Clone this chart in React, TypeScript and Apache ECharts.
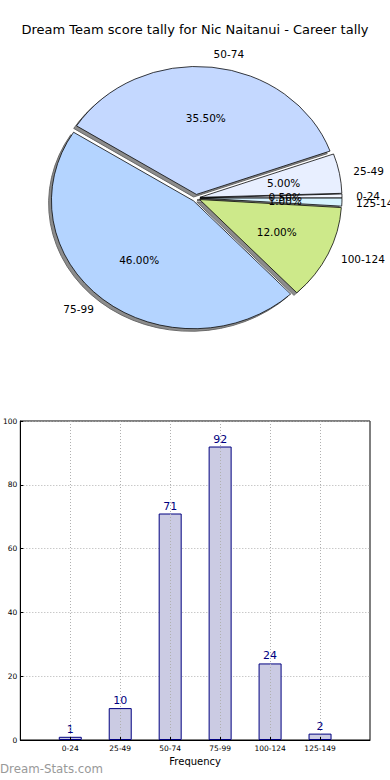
import React, { useEffect, useRef } from "react";
import * as echarts from "echarts";

const TITLE = "Dream Team score tally for Nic Naitanui - Career tally";
const categories = ["0-24", "25-49", "50-74", "75-99", "100-124", "125-149"];
const counts = [1, 10, 71, 92, 24, 2];
const sliceColors = ["#f3f6ff", "#e8efff", "#c4d8ff", "#b4d4ff", "#cde98a", "#d6f3ff"];
const yTicks = [0, 20, 40, 60, 80, 100];
const xLabel = "Frequency";
const watermark = "Dream-Stats.com";

const FONT = "DejaVu Sans";

export default function App() {
  const ref = useRef<HTMLDivElement>(null);
  useEffect(() => {
    document.body.style.margin = "0";
    if (!ref.current) return;
    const chart = echarts.init(ref.current, undefined, { renderer: "svg" });

    const total = counts.reduce((a, b) => a + b, 0);
    const startDeg: number[] = [];
    const endDeg: number[] = [];
    let acc = 0;
    counts.forEach((c) => {
      startDeg.push((acc / total) * 360);
      acc += c;
      endDeg.push((acc / total) * 360);
    });

    const cx = 196, cy = 198, rx = 142, ry = 128;
    const k = ry / rx;
    const expl = 4;
    const shX = -0.02 * rx, shY = 0.02 * rx * k;

    const renderSlice = (params: any, api: any) => {
      const i = params.dataIndex;
      const v = api.value(0) as number;
      const t1 = startDeg[i], t2 = endDeg[i];
      const tm = ((t1 + t2) / 2) * Math.PI / 180;
      const c = Math.cos(tm), s = Math.sin(tm);
      const ox = cx + expl * c;
      const oy = cy - expl * k * s;
      const shape = {
        cx: 0, cy: 0, r: rx, r0: 0,
        startAngle: (-t2 * Math.PI) / 180,
        endAngle: (-t1 * Math.PI) / 180,
        clockwise: true,
      };
      const lr = expl + 1.1 * rx;
      const pr = expl + 0.6 * rx;
      return {
        type: "group",
        children: [
          {
            type: "sector",
            x: ox + shX, y: oy + shY, scaleY: k,
            shape,
            style: { fill: "#8c8c8c", stroke: "#666", lineWidth: 1, strokeNoScale: true },
            z2: 1,
          },
          {
            type: "sector",
            x: ox, y: oy, scaleY: k,
            shape,
            style: { fill: sliceColors[i], stroke: "#000", lineWidth: 0.8, strokeNoScale: true },
            z2: 10,
          },
          {
            type: "text",
            x: cx + pr * c, y: cy - pr * k * s,
            style: {
              text: ((v / total) * 100).toFixed(2) + "%",
              fill: "#000", fontSize: 10.5, fontFamily: FONT,
              align: "center", verticalAlign: "middle",
            },
            z2: 20,
          },
          {
            type: "text",
            x: cx + lr * c, y: cy - lr * k * s,
            style: {
              text: categories[i],
              fill: "#000", fontSize: 10.5, fontFamily: FONT,
              align: c >= 0 ? "left" : "right", verticalAlign: "middle",
            },
            z2: 20,
          },
        ],
      };
    };

    const axisCats = ["", ...categories, ""];
    const barData: any[] = ["-", ...counts, "-"];
    const inner = (idx: number) => idx > 0 && idx < axisCats.length - 1;

    chart.setOption({
      animation: false,
      textStyle: { fontFamily: FONT },
      title: {
        text: TITLE,
        left: "center",
        top: 18,
        textStyle: { fontSize: 13, fontWeight: "normal", color: "#000", fontFamily: FONT },
      },
      grid: {
        left: 19, right: 20, top: 421, bottom: 40,
        show: true, borderColor: "#000", borderWidth: 1, backgroundColor: "transparent",
      },
      xAxis: {
        type: "category",
        data: axisCats,
        boundaryGap: false,
        z: 3,
        name: xLabel,
        nameLocation: "middle",
        nameGap: 16,
        nameTextStyle: { fontSize: 10, color: "#000", fontFamily: FONT },
        axisLine: { show: true, lineStyle: { color: "#000", width: 1 } },
        axisTick: { show: true, inside: true, length: 3, interval: inner, lineStyle: { color: "#000" } },
        axisLabel: { fontSize: 7.5, color: "#000", margin: 4, interval: 0, fontFamily: FONT },
        splitLine: { show: true, interval: inner, lineStyle: { color: "#b0b0b0", type: [1, 2], width: 1 } },
      },
      yAxis: {
        type: "value",
        min: 0, max: 100, interval: 20,
        axisLine: { show: true, lineStyle: { color: "#000", width: 1 } },
        axisTick: { show: true, inside: true, length: 3, lineStyle: { color: "#000" } },
        axisLabel: {
          fontSize: 7.5, color: "#000", margin: 3, fontFamily: FONT,
          formatter: (v: number) => (yTicks.includes(v) ? String(v) : ""),
        },
        splitLine: { show: true, lineStyle: { color: "#b0b0b0", type: [1, 2], width: 1 } },
      },
      series: [
        {
          type: "custom",
          coordinateSystem: "none",
          renderItem: renderSlice,
          data: counts.map((c) => [c]),
          silent: true,
        },
        {
          type: "bar",
          data: barData,
          barWidth: 23,
          itemStyle: { color: "#cbcbe3", borderColor: "#000080", borderWidth: 1 },
          label: {
            show: true, position: "top", distance: 2,
            color: "#000080", fontSize: 11, fontFamily: FONT,
          },
        },
      ],
      graphic: [
        {
          type: "text",
          left: 0,
          top: 763,
          style: { text: watermark, fill: "#999", fontSize: 11.8, fontFamily: FONT, fontWeight: "normal" },
        },
      ],
    });

    return () => chart.dispose();
  }, []);

  return <div ref={ref} style={{ width: 390, height: 780 }} />;
}
